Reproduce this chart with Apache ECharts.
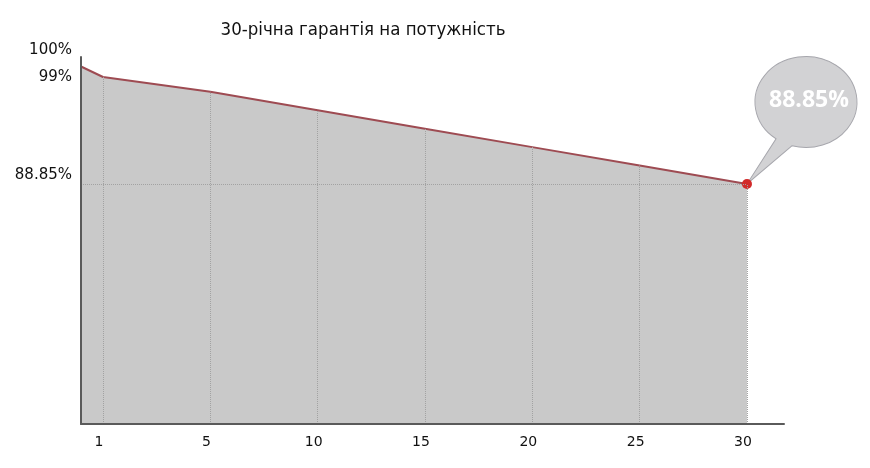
<!DOCTYPE html>
<html>
<head>
<meta charset="utf-8">
<script src="https://cdn.jsdelivr.net/npm/echarts@6/dist/echarts.min.js"></script>
<style>
  html, body { margin: 0; padding: 0; background: #fff; }
  #chart { width: 870px; height: 468px; }
</style>
</head>
<body>
<div id="chart"></div>
<script>
  // Tick labels on the x axis, evenly spaced as in the picture
  var yearLabels = ["1", "5", "10", "15", "20", "25", "30"];
  // Guaranteed output at each labelled year, %
  var powerPct = [99, 97.6, 95.85, 94.1, 92.35, 90.6, 88.85];
  // Output at the start (year 0), %
  var startPct = 100;
  // Y axis tick values and their labels
  var yTickValues = [88.85, 99, 100];
  var yTickLabels = ["88.85%", "99%", "100%"];
  var calloutText = "88.85%";

  // Axis layout (slot units: one slot per labelled year)
  var axisStart = -0.205;
  var axisEnd = 6.345;
  var yMin = 66.08;
  var yMax = 100.9;

  var font = "DejaVu Sans";
  var last = powerPct.length - 1;

  var lineData = [[axisStart, startPct]];
  for (var i = 0; i < powerPct.length; i++) {
    if (i === last) {
      lineData.push({
        value: [i, powerPct[i]],
        symbol: "circle",
        symbolSize: 10,
        itemStyle: { color: "#d22a2a" }
      });
    } else {
      lineData.push([i, powerPct[i]]);
    }
  }

  // dotted guides: vertical at each label, horizontal at the final value
  var guides = [];
  for (var j = 0; j < powerPct.length; j++) {
    guides.push([{ coord: [j, yMin] }, { coord: [j, powerPct[j]] }]);
  }
  guides.push([{ coord: [axisStart, powerPct[last]] }, { coord: [last, powerPct[last]] }]);

  var yRich = {
    hi: { fontFamily: font, fontSize: 15, color: "#111", padding: [0, 0, 32, 0] },
    mid: { fontFamily: font, fontSize: 15, color: "#111" },
    lo: { fontFamily: font, fontSize: 15, color: "#111", padding: [0, 0, 18, 0] }
  };

  // speech bubble: ellipse with a tail, tip at bottom-left
  var bubble = "path://M0 127.5 L29.02 82.31 A51 45.5 0 1 1 44.94 89.24 Z";

  var chart = echarts.init(document.getElementById("chart"));
  chart.setOption({
    animation: false,
    backgroundColor: "#fff",
    title: {
      text: "30-річна гарантія на потужність",
      left: 358,
      textAlign: "center",
      top: 16,
      textStyle: { fontFamily: "DejaVu Sans Condensed, DejaVu Sans", fontSize: 18.5, fontWeight: "normal", color: "#111" }
    },
    grid: { left: 81, right: 86, top: 57, bottom: 44 },
    xAxis: {
      type: "value",
      z: 5,
      min: axisStart,
      max: axisEnd,
      axisLine: { show: true, onZero: false, lineStyle: { color: "#5a5a5a", width: 2 } },
      axisTick: { show: false },
      splitLine: { show: false },
      axisLabel: {
        customValues: [0, 1, 2, 3, 4, 5, 6],
        formatter: function (v) { return yearLabels[Math.round(v)]; },
        margin: 11,
        padding: [0, 8, 0, 0],
        fontFamily: font,
        fontSize: 14,
        color: "#111"
      }
    },
    yAxis: {
      type: "value",
      z: 5,
      min: yMin,
      max: yMax,
      axisLine: { show: true, onZero: false, lineStyle: { color: "#5a5a5a", width: 2 } },
      axisTick: { show: false },
      splitLine: { show: false },
      axisLabel: {
        customValues: yTickValues,
        margin: 9,
        formatter: function (v) {
          var k = yTickValues.indexOf(v);
          var key = v === 100 ? "hi" : (v === 99 ? "mid" : "lo");
          return "{" + key + "|" + yTickLabels[k] + "}";
        },
        rich: yRich
      }
    },
    series: [{
      type: "line",
      z: 3,
      data: lineData,
      symbol: "none",
      lineStyle: { color: "#9e4b52", width: 2 },
      areaStyle: { color: "#c9c9c9", opacity: 1 },
      markLine: {
        silent: true,
        symbol: ["none", "none"],
        label: { show: false },
        lineStyle: { type: "dotted", color: "#a2a2a2", width: 1 },
        data: guides
      },
      markPoint: {
        z: 2,
        silent: true,
        symbol: bubble,
        symbolSize: [110, 127.5],
        symbolOffset: [55, -63.75],
        itemStyle: { color: "#d2d2d4", borderColor: "#a6a6ac", borderWidth: 1 },
        label: {
          show: true,
          formatter: calloutText,
          offset: [7, -19.75],
          color: "#fff",
          fontFamily: "Open Sans",
          fontWeight: "bold",
          fontSize: 23
        },
        data: [{ coord: [last, powerPct[last]] }]
      }
    }]
  });
</script>
</body>
</html>
